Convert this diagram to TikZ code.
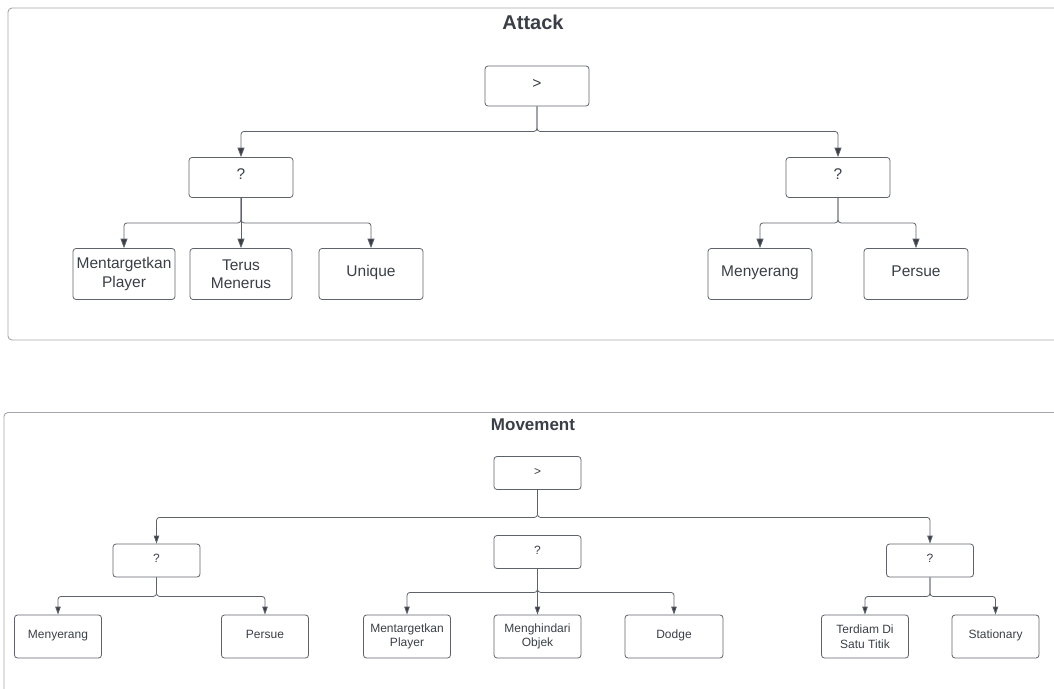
\documentclass[tikz,border=0pt]{standalone}
\usepackage{fontspec}
\setmainfont{Liberation Sans}
\usetikzlibrary{arrows.meta}
\definecolor{ink}{HTML}{3A3F47}
\definecolor{wire}{HTML}{5E636B}
\definecolor{frame}{HTML}{A3A7AD}

\begin{document}
\begin{tikzpicture}[x=1pt,y=-1pt]
\tikzstyle{every node}+=[inner sep=0pt, text=ink, align=center]
\tikzstyle{box}=[draw=wire, line width=0.8pt, rounded corners=3pt]
\tikzstyle{bigbox}=[box, font=\fontsize{15.5}{18.5}\selectfont]
\tikzstyle{smallbox}=[box, font=\fontsize{12}{14.5}\selectfont]
\tikzstyle{oneline}=[text height=0.70em, text depth=0.24em]
\tikzstyle{link}=[draw=wire, line width=0.8pt, rounded corners=3pt, -{Triangle[length=9.5pt,width=7pt,fill=ink]}]
\tikzstyle{smalllink}=[link, -{Triangle[length=8pt,width=5.5pt,fill=ink]}]
\useasboundingbox (0,0) rectangle (1054,688);
\draw [frame, line width=0.9pt, rounded corners=4pt] (8,8) rectangle (1080,340);
\draw [frame, line width=0.9pt, rounded corners=4pt] (4,412.5) rectangle (1080,720);
\node [font=\bfseries\fontsize{20}{24}\selectfont] (a_title) at (533,22) {Attack};
\node [font=\bfseries\fontsize{17}{20}\selectfont] (m_title) at (533,425) {Movement};
\node [bigbox, oneline, minimum width=104pt, minimum height=40pt] (a_root) at (537,86) {>};
\node [bigbox, oneline, minimum width=104pt, minimum height=40pt] (a_sel1) at (241,177.5) {?};
\node [bigbox, oneline, minimum width=104pt, minimum height=40pt] (a_sel2) at (838,177.5) {?};
\node [bigbox, minimum width=102pt, minimum height=51pt] (a_target) at (124,274) {Mentargetkan\\Player};
\node [bigbox, minimum width=102pt, minimum height=51pt] (a_terus) at (241,274) {Terus\\Menerus};
\node [bigbox, oneline, minimum width=104pt, minimum height=51pt] (a_unique) at (371,274) {Unique};
\node [bigbox, oneline, minimum width=104pt, minimum height=51pt] (a_serang) at (760,274) {Menyerang};
\node [bigbox, oneline, minimum width=104pt, minimum height=51pt] (a_persue) at (916,274) {Persue};
\draw [link] (a_root.south) -- ++(0,25) -| (a_sel1.north);
\draw [link] (a_root.south) -- ++(0,25) -| (a_sel2.north);
\draw [link] (a_sel1.south) -- ++(0,25) -| (a_target.north);
\draw [link] (a_sel1.south) -- (a_terus.north);
\draw [link] (a_sel1.south) -- ++(0,25) -| (a_unique.north);
\draw [link] (a_sel2.south) -- ++(0,25) -| (a_serang.north);
\draw [link] (a_sel2.south) -- ++(0,25) -| (a_persue.north);
\node [smallbox, oneline, minimum width=87pt, minimum height=33pt] (m_root) at (537.5,473) {>};
\node [smallbox, oneline, minimum width=87pt, minimum height=33pt] (m_sel1) at (156.5,560.5) {?};
\node [smallbox, oneline, minimum width=87pt, minimum height=33pt] (m_sel2) at (537.5,552) {?};
\node [smallbox, oneline, minimum width=87pt, minimum height=33pt] (m_sel3) at (930,560.5) {?};
\node [smallbox, oneline, minimum width=87pt, minimum height=43pt] (m_serang) at (58,636.5) {Menyerang};
\node [smallbox, oneline, minimum width=87pt, minimum height=43pt] (m_persue) at (265,636.5) {Persue};
\node [smallbox, minimum width=87pt, minimum height=43pt] (m_target) at (407,636.5) {Mentargetkan\\Player};
\node [smallbox, minimum width=87pt, minimum height=43pt] (m_hindar) at (537.5,636.5) {Menghindari\\Objek};
\node [smallbox, oneline, minimum width=98pt, minimum height=43pt] (m_dodge) at (674,636.5) {Dodge};
\node [smallbox, minimum width=87pt, minimum height=43pt] (m_diam) at (865,636.5) {Terdiam Di\\Satu Titik};
\node [smallbox, oneline, minimum width=87pt, minimum height=43pt] (m_stat) at (995.5,636.5) {Stationary};
\draw [smalllink] (m_root.south) -- ++(0,27.5) -| (m_sel1.north);
\draw [smalllink] (m_root.south) -- ++(0,27.5) -| (m_sel3.north);
\draw [smalllink] (m_sel1.south) -- ++(0,19) -| (m_serang.north);
\draw [smalllink] (m_sel1.south) -- ++(0,19) -| (m_persue.north);
\draw [smalllink] (m_sel2.south) -- ++(0,23.5) -| (m_target.north);
\draw [smalllink] (m_sel2.south) -- (m_hindar.north);
\draw [smalllink] (m_sel2.south) -- ++(0,23.5) -| (m_dodge.north);
\draw [smalllink] (m_sel3.south) -- ++(0,19) -| (m_diam.north);
\draw [smalllink] (m_sel3.south) -- ++(0,19) -| (m_stat.north);
\end{tikzpicture}
\end{document}
